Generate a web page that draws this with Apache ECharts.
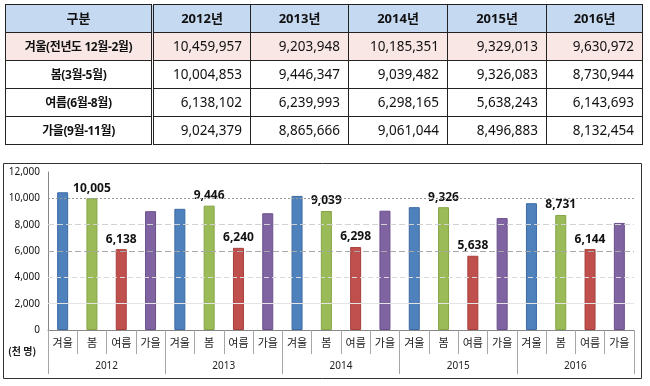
<!DOCTYPE html>
<html><head><meta charset="utf-8">
<script src="https://cdn.jsdelivr.net/npm/echarts@6/dist/echarts.min.js"></script>
<style>
html,body{margin:0;padding:0;background:#fff;width:650px;height:386px;overflow:hidden;}
#chart{position:absolute;left:0;top:0;width:650px;height:386px;}
#tbl{position:absolute;left:5px;top:4px;border-collapse:collapse;font-family:"Noto Sans","Noto Sans CJK KR",sans-serif;z-index:2;table-layout:fixed;}
#tbl td,#tbl th{border:1px solid #222;height:27px;padding:0;line-height:27px;}
#tbl th{background:#C5D9F1;font-weight:bold;font-size:13px;text-align:center;color:#111;}
#tbl td{font-size:13.5px;text-align:right;padding-right:8px;color:#111;}
#tbl td.lab{text-align:center;padding:0;font-weight:bold;font-size:12px;letter-spacing:-0.4px;}
#tbl .c0{border-right:3px double #222;}
#tbl tr.w td{background:#F9E7E6;}
</style></head>
<body>
<table id="tbl"></table>
<div id="chart"></div>
<script>
// ---- data ----
var years = ['2012', '2013', '2014', '2015', '2016'];
var seasons = ['겨울', '봄', '여름', '가을'];
var rowLabels = ['겨울(전년도 12월-2월)', '봄(3월-5월)', '여름(6월-8월)', '가을(9월-11월)'];
var winter = [10459957, 9203948, 10185351, 9329013, 9630972];
var spring = [10004853, 9446347, 9039482, 9326083, 8730944];
var summer = [6138102, 6239993, 6298165, 5638243, 6143693];
var autumn = [9024379, 8865666, 9061044, 8496883, 8132454];
var yTicks = [0, 2000, 4000, 6000, 8000, 10000, 12000];

var all = [winter, spring, summer, autumn];
function fmt(n){return n.toString().replace(/\B(?=(\d{3})+(?!\d))/g, ',');}
var FF = '"Noto Sans","Noto Sans CJK KR",sans-serif';

// ---- table ----
var colW = [147, 98, 98, 99, 99, 96];
var html = '<colgroup>' + colW.map(function(w){return '<col style="width:'+w+'px">';}).join('') + '</colgroup>';
html += '<tr><th class="c0">구분</th>' + years.map(function(y){return '<th>'+y+'년</th>';}).join('') + '</tr>';
rowLabels.forEach(function(lab, i){
  html += '<tr' + (i===0?' class="w"':'') + '><td class="lab c0">' + lab + '</td>' +
    all[i].map(function(v){return '<td>'+fmt(v)+'</td>';}).join('') + '</tr>';
});
document.getElementById('tbl').innerHTML = html;

// ---- chart ----
var cats = [];
years.forEach(function(){ seasons.forEach(function(s){ cats.push(s); }); });
var colors = ['#4F81BD', '#9BBB59', '#C0504D', '#8064A2'];
var borders = ['#3B6BA5', '#85A545', '#A63E3B', '#6A4F8C'];
var showLab = [false, true, true, false];

var series = [{
  type: 'line', data: [], z: 1, silent: true,
  markLine: {
    symbol: ['none', 'none'], silent: true, label: {show: false}, animation: false,
    data: [
      {yAxis: yTicks[1], lineStyle: {type: 'solid', color: '#e4e4e4', width: 1}},
      {yAxis: yTicks[2], lineStyle: {type: [5, 3], color: '#dadada', width: 1}},
      {yAxis: yTicks[3], lineStyle: {type: [6, 3], color: '#a8a8a8', width: 1}},
      {yAxis: yTicks[4], lineStyle: {type: [6, 3], color: '#d2d2d2', width: 1}},
      {yAxis: yTicks[5], lineStyle: {type: [2, 2], color: '#9a9a9a', width: 1}}
    ]
  }
}];
seasons.forEach(function(s, si){
  var d = [];
  years.forEach(function(y, yi){
    seasons.forEach(function(s2, sj){
      d.push(sj === si ? Math.round(all[si][yi] / 1000) : null);
    });
  });
  series.push({
    type: 'bar', name: s, stack: 'one', data: d, barWidth: 11, z: 2,
    itemStyle: {color: colors[si], borderColor: borders[si], borderWidth: 1},
    label: {show: showLab[si], position: 'top', distance: 4, fontSize: 12, fontWeight: 'bold', color: '#111',
      fontFamily: FF, formatter: function(p){ return fmt(p.value); }}
  });
});

var chart = echarts.init(document.getElementById('chart'), null, {renderer: 'canvas'});
chart.setOption({
  animation: false,
  textStyle: {fontFamily: FF},
  grid: {left: 48, right: 16, top: 172, bottom: 56},
  graphic: [
    {type: 'rect', shape: {x: 3.5, y: 163.5, width: 638, height: 215}, style: {fill: 'none', stroke: '#333', lineWidth: 1}, z: 0},
    {type: 'text', left: 8, top: 346, style: {text: '(천 명)', font: 'bold 10px "Noto Sans CJK KR"', fill: '#222'}}
  ],
  xAxis: [{
    type: 'category', data: cats, position: 'bottom',
    axisLine: {show: true, lineStyle: {color: '#868686', width: 1}},
    axisTick: {show: true, interval: 0, length: 24, lineStyle: {color: '#a6a6a6'}},
    axisLabel: {interval: 0, fontSize: 11, color: '#222', margin: 7, fontFamily: '"Noto Sans CJK KR",sans-serif'}
  }, {
    type: 'category', data: years, position: 'bottom',
    axisLine: {show: false},
    axisTick: {show: true, interval: 0, length: 44, lineStyle: {color: '#a6a6a6'}},
    axisLabel: {interval: 0, fontSize: 10, color: '#222', margin: 31, fontFamily: FF}
  }],
  yAxis: {
    type: 'value', min: 0, max: 12000, interval: 2000,
    axisLine: {show: true, lineStyle: {color: '#868686'}},
    axisTick: {show: false},
    splitLine: {show: false},
    axisLabel: {fontSize: 10, color: '#111', margin: 8, fontFamily: FF, formatter: function(v){ return fmt(v); }}
  },
  series: series
});
</script>
</body></html>
